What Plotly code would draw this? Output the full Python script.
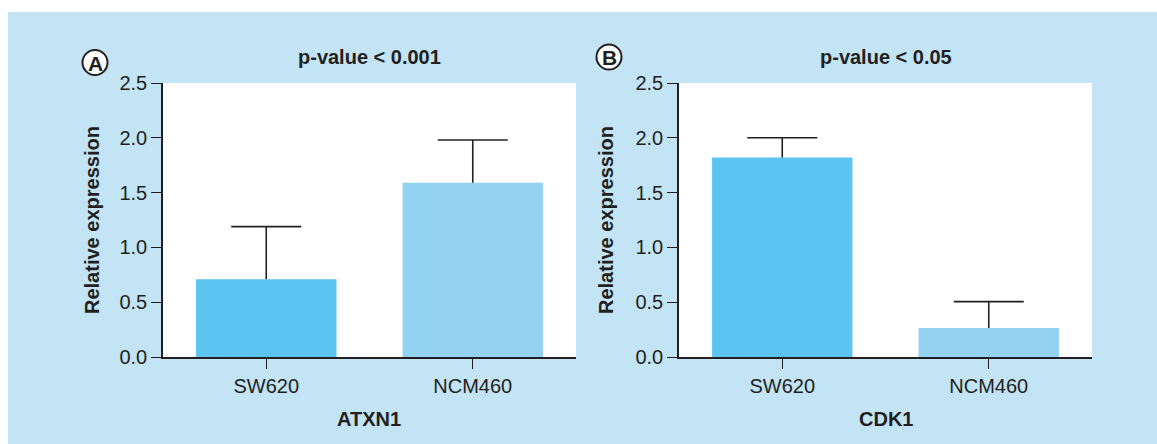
import plotly.graph_objects as go

categories = ["SW620", "NCM460"]
atxn1_values = [0.71, 1.59]
atxn1_errors = [0.48, 0.39]
cdk1_values = [1.82, 0.265]
cdk1_errors = [0.18, 0.24]
bar_colors = ["#5BC4F1", "#94D2F2"]
panel_titles = ["p-value < 0.001", "p-value < 0.05"]
gene_names = ["ATXN1", "CDK1"]
panel_letters = ["A", "B"]
y_ticks = [0.0, 0.5, 1.0, 1.5, 2.0, 2.5]

W, H = 1157, 444
ML, MT = 8, 12
PW, PH = W - ML, H - MT
BG = "#C2E4F5"
INK = "#231F20"
FONT = "Liberation Sans, Arial, Helvetica, sans-serif"


def px_x(x):
    return (x - ML) / PW


def px_y(y):
    return (H - y) / PH


fig = go.Figure()

domains = [(px_x(163), px_x(576)), (px_x(679), px_x(1092))]
ydom = (px_y(357), px_y(83))

data = [(atxn1_values, atxn1_errors), (cdk1_values, cdk1_errors)]
for i, (vals, errs) in enumerate(data):
    xa = "x" if i == 0 else "x2"
    ya = "y" if i == 0 else "y2"
    fig.add_trace(go.Bar(
        x=categories, y=vals, marker=dict(color=bar_colors, line=dict(width=0)),
        width=0.68, xaxis=xa, yaxis=ya, showlegend=False, hoverinfo="x+y",
        error_y=dict(type="data", array=errs, symmetric=False, arrayminus=[0, 0],
                     color=INK, thickness=1.6, width=0),
    ))
    tops = [v + e for v, e in zip(vals, errs)]
    fig.add_trace(go.Scatter(
        x=categories, y=tops, mode="markers", marker=dict(size=1, opacity=0),
        xaxis=xa, yaxis=ya, showlegend=False, hoverinfo="skip",
        error_y=dict(type="constant", value=0, color=INK, thickness=1.6, width=35),
    ))

axis_common = dict(showline=True, linecolor=INK, linewidth=1.6, ticks="outside",
                   ticklen=10, tickwidth=1.2, tickcolor=INK, showgrid=False, zeroline=False,
                   tickfont=dict(family=FONT, size=20, color=INK))

layout_axes = {}
for i in range(2):
    sx = "" if i == 0 else "2"
    layout_axes[f"xaxis{sx}"] = dict(domain=list(domains[i]), anchor=f"y{sx}",
                                     range=[-0.5, 1.5], fixedrange=True, **axis_common)
    layout_axes[f"yaxis{sx}"] = dict(domain=list(ydom), anchor=f"x{sx}", range=[0, 2.5],
                                     tickvals=y_ticks, ticktext=[f"{v:.1f}" for v in y_ticks],
                                     fixedrange=True, **axis_common)

shapes = [dict(type="rect", xref="paper", yref="paper", x0=0, x1=1, y0=0, y1=1,
               fillcolor=BG, line=dict(width=0), layer="below")]
for i in range(2):
    sx = "" if i == 0 else "2"
    shapes.append(dict(type="rect", xref=f"x{sx} domain", yref=f"y{sx} domain",
                       x0=0, x1=1, y0=0, y1=1, fillcolor="white", line=dict(width=0),
                       layer="below"))

circle_centers = [(95, 62.5), (609, 57)]
annotations = []
for i in range(2):
    cx, cy = circle_centers[i]
    shapes.append(dict(type="circle", xref="paper", yref="paper",
                       xsizemode="pixel", ysizemode="pixel",
                       xanchor=px_x(cx), yanchor=px_y(cy), x0=-12.5, x1=12.5, y0=-12.5, y1=12.5,
                       fillcolor="white", line=dict(color=INK, width=2)))
    annotations.append(dict(text=f"<b>{panel_letters[i]}</b>", xref="paper", yref="paper",
                            x=px_x(cx), y=px_y(cy + 0.5), showarrow=False, xanchor="center",
                            yanchor="middle", font=dict(family=FONT, size=21, color=INK)))
    left, right = domains[i]
    center = (left + right) / 2
    annotations.append(dict(text=f"<b>{panel_titles[i]}</b>", xref="paper", yref="paper",
                            x=center, y=px_y(57), showarrow=False, xanchor="center",
                            yanchor="middle", font=dict(family=FONT, size=20, color=INK)))
    annotations.append(dict(text=f"<b>{gene_names[i]}</b>", xref="paper", yref="paper",
                            x=center, y=px_y(419), showarrow=False, xanchor="center",
                            yanchor="middle", font=dict(family=FONT, size=20, color=INK)))
    ytx = 92 if i == 0 else 606
    annotations.append(dict(text="<b>Relative expression</b>", xref="paper", yref="paper",
                            x=px_x(ytx), y=px_y(220), showarrow=False, textangle=-90,
                            xanchor="center", yanchor="middle",
                            font=dict(family=FONT, size=20, color=INK)))

fig.update_layout(
    width=W, height=H,
    margin=dict(l=ML, t=MT, r=0, b=0, pad=0, autoexpand=False),
    paper_bgcolor="white", plot_bgcolor="white",
    font=dict(family=FONT, color=INK),
    shapes=shapes, annotations=annotations, bargap=0.32,
    **layout_axes,
)

fig.write_html(
    "out.html",
    config={"displayModeBar": False},
    post_script="document.body.style.margin='0';document.body.style.overflow='hidden';",
)
